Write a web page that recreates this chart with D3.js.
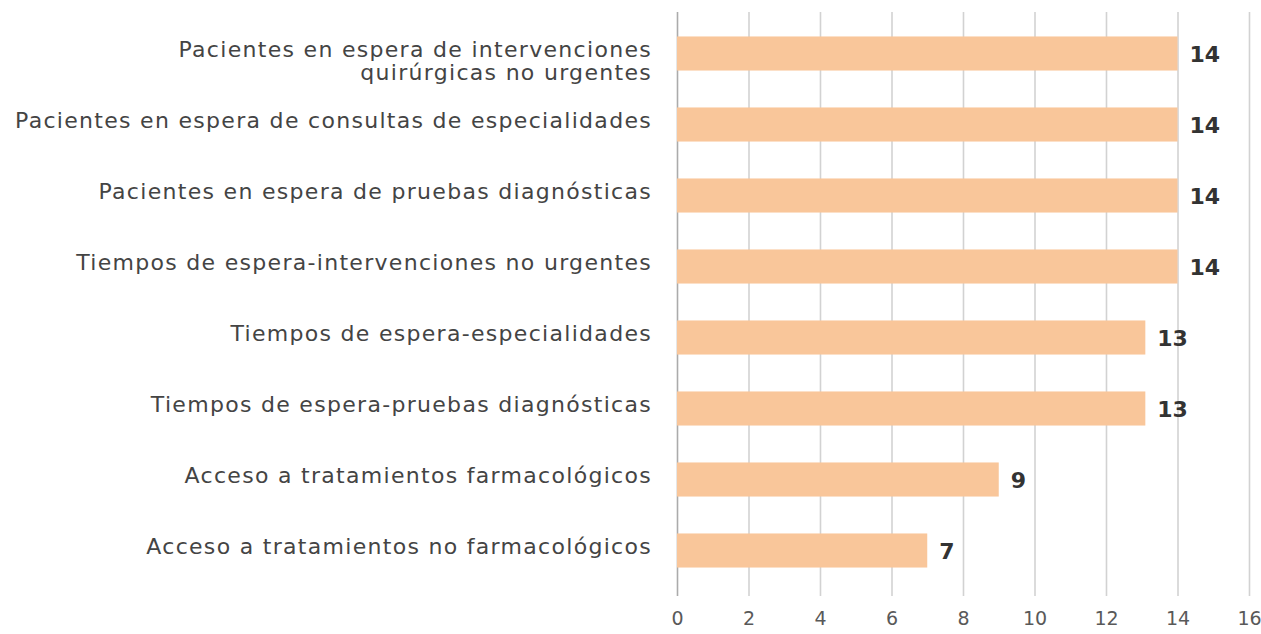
<!DOCTYPE html>
<html>
<head>
<meta charset="utf-8">
<script src="https://cdn.jsdelivr.net/npm/d3@7"></script>
<style>
  body { margin: 0; background: #fff; }
  svg text { font-family: "DejaVu Sans", sans-serif; }
</style>
</head>
<body>
<svg id="chart"></svg>
<script>
// categories, top to bottom (wrapped labels split on "|")
var categories = [
  "Pacientes en espera de intervenciones|quirúrgicas no urgentes",
  "Pacientes en espera de consultas de especialidades",
  "Pacientes en espera de pruebas diagnósticas",
  "Tiempos de espera-intervenciones no urgentes",
  "Tiempos de espera-especialidades",
  "Tiempos de espera-pruebas diagnósticas",
  "Acceso a tratamientos farmacológicos",
  "Acceso a tratamientos no farmacológicos"
];
var values = [14, 14, 14, 14, 13.1, 13.1, 9, 7];
var xTicks = [0, 2, 4, 6, 8, 10, 12, 14, 16];

var width = 1261,
    height = 634;

var svg = d3.select("#chart").attr("width", width).attr("height", height);

var x = d3.scaleLinear().domain([0, 16]).range([677, 1249]);
var y = d3.scaleBand().domain(categories).range([18, 586])
  .paddingInner(0.52).paddingOuter(0.26);

// grid + tick labels
var axis = svg.append("g")
  .attr("transform", "translate(0,596)")
  .call(d3.axisBottom(x).tickValues(xTicks).tickSize(-584).tickPadding(16).tickFormat(d3.format("d")));
axis.select(".domain").remove();
axis.selectAll(".tick line")
  .attr("stroke", function(d) { return d == 0 ? "#ababab" : "#d2d2d2"; })
  .attr("stroke-width", 1.6);
axis.selectAll(".tick text")
  .attr("fill", "#595959")
  .style("font-size", "19px");

// bars
svg.append("g").selectAll("rect")
  .data(values)
  .join("rect")
  .attr("x", x(0))
  .attr("y", function(d, i) { return y(categories[i]); })
  .attr("width", function(d) { return x(d) - x(0); })
  .attr("height", y.bandwidth())
  .attr("fill", "#f9c69a");

// value labels
svg.append("g").selectAll("text")
  .data(values)
  .join("text")
  .attr("x", function(d) { return x(d) + 12; })
  .attr("y", function(d, i) { return y(categories[i]) + y.bandwidth() / 2; })
  .attr("dy", "0.4em")
  .attr("fill", "#333")
  .style("font-size", "22px")
  .style("font-weight", "bold")
  .text(function(d) { return Math.round(d); });

// category labels
var labels = svg.append("g").selectAll("text")
  .data(categories)
  .join("text")
  .attr("x", 652)
  .attr("y", function(d) { return y(d) + y.bandwidth() / 2 + 3; })
  .attr("text-anchor", "end")
  .attr("fill", "#444")
  .style("font-size", "22px")
  .style("letter-spacing", "1.3px");

labels.each(function(d) {
  var t = d3.select(this);
  d.split("|").forEach(function(line, i) {
    t.append("tspan").attr("x", 652).attr("dy", i == 0 ? 0 : 23).text(line);
  });
});
</script>
</body>
</html>
